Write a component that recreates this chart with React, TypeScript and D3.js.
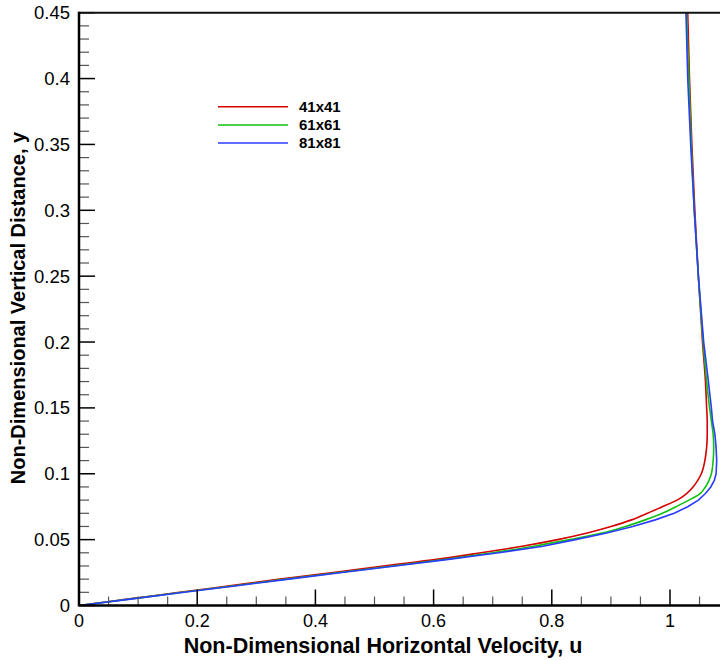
import React from "react";
import * as d3 from "d3";

const yLevels = [0, 0.005, 0.01, 0.015, 0.02, 0.025, 0.03, 0.035, 0.04, 0.045, 0.05, 0.055, 0.06, 0.065, 0.07, 0.075, 0.08, 0.085, 0.09, 0.095, 0.1, 0.11, 0.12, 0.13, 0.14, 0.15, 0.17, 0.2, 0.25, 0.3, 0.35, 0.4, 0.45];

const u41 = [0, 0.085, 0.17, 0.255, 0.34, 0.43, 0.515, 0.605, 0.68, 0.75, 0.81, 0.86, 0.9, 0.935, 0.962, 0.987, 1.012, 1.028, 1.039, 1.047, 1.053, 1.059, 1.062, 1.063, 1.063, 1.062, 1.06, 1.055, 1.048, 1.042, 1.037, 1.033, 1.03];
const u61 = [0, 0.088, 0.175, 0.263, 0.35, 0.44, 0.53, 0.62, 0.7, 0.77, 0.83, 0.885, 0.925, 0.958, 0.987, 1.01, 1.032, 1.051, 1.06, 1.066, 1.07, 1.073, 1.074, 1.073, 1.07, 1.067, 1.062, 1.056, 1.048, 1.041, 1.036, 1.032, 1.028];
const u81 = [0, 0.09, 0.178, 0.267, 0.355, 0.445, 0.535, 0.625, 0.71, 0.785, 0.84, 0.893, 0.937, 0.975, 1.007, 1.03, 1.048, 1.06, 1.069, 1.075, 1.078, 1.079, 1.078, 1.076, 1.072, 1.07, 1.065, 1.057, 1.048, 1.041, 1.035, 1.03, 1.027];

const seriesNames = ["41x41", "61x61", "81x81"];
const seriesColors = ["#d40000", "#10c010", "#2a3cff"];
const seriesValues = [u41, u61, u81];

const xTickLabels = [0, 0.2, 0.4, 0.6, 0.8, 1];
const yTickLabels = [0, 0.05, 0.1, 0.15, 0.2, 0.25, 0.3, 0.35, 0.4, 0.45];

const FONT = "'Liberation Sans', Arial, Helvetica, sans-serif";

export default function App() {
  const left = 79;
  const top = 12.7;
  const bottom = 605.5;
  const x = d3.scaleLinear().domain([0, 1.1]).range([left, left + 1.1 * 591]);
  const y = d3.scaleLinear().domain([0, 0.45]).range([bottom, top]);

  const xMinor = d3.range(0, 1.1001, 0.05).map((v) => +v.toFixed(2));
  const yMinor = d3.range(0, 0.4501, 0.01).map((v) => +v.toFixed(2));
  const isMajorX = (v: number) => Math.abs(v * 5 - Math.round(v * 5)) < 1e-6;
  const isMajorY = (v: number) => Math.abs(v * 20 - Math.round(v * 20)) < 1e-6;

  const fmt = (v: number) => (v === 0 ? "0" : String(+v.toFixed(2)));

  const lines = seriesValues.map((vals, i) => {
    const pts: [number, number][] = vals.map((u, k) => [u, yLevels[k]]);
    const gen = d3
      .line<[number, number]>()
      .x((d) => x(d[0]))
      .y((d) => y(d[1]))
      .curve(i === 2 ? d3.curveLinear : d3.curveMonotoneY);
    return gen(pts) || "";
  });

  const legendY = [106.7, 125, 143];

  return (
    <div style={{ position: "fixed", left: 0, top: 0 }}>
      <svg width={720} height={660} style={{ display: "block", background: "#fff" }}>
        <defs>
          <clipPath id="plot">
            <rect x={left} y={top} width={700} height={bottom - top} />
          </clipPath>
        </defs>
        <g clipPath="url(#plot)">
          {lines.map((d, i) => (
            <path key={i} d={d} fill="none" stroke={seriesColors[i]} strokeWidth={1.6} />
          ))}
        </g>
        {xMinor.map((v, i) => (
          <line
            key={"xt" + i}
            x1={x(v)}
            x2={x(v)}
            y1={bottom}
            y2={bottom - (isMajorX(v) ? 16 : 9)}
            stroke={isMajorX(v) ? "#000" : "#555"}
            strokeWidth={isMajorX(v) ? 1.5 : 1.2}
          />
        ))}
        {yMinor.map((v, i) => (
          <line
            key={"yt" + i}
            x1={left}
            x2={left + (isMajorY(v) ? 16 : 10)}
            y1={y(v)}
            y2={y(v)}
            stroke={isMajorY(v) ? "#000" : "#555"}
            strokeWidth={isMajorY(v) ? 1.5 : 1.2}
          />
        ))}
        <line x1={left} x2={720} y1={top} y2={top} stroke="#111" strokeWidth={2} />
        <line x1={left} x2={720} y1={bottom} y2={bottom} stroke="#000" strokeWidth={2.5} />
        <line x1={left} x2={left} y1={top - 1} y2={bottom + 1} stroke="#000" strokeWidth={2.5} />
        {xTickLabels.map((v, i) => (
          <text key={"xl" + i} x={x(v)} y={bottom + 21} textAnchor="middle" fontFamily={FONT} fontSize={18} fill="#000">
            {fmt(v)}
          </text>
        ))}
        {yTickLabels.map((v, i) => (
          <text key={"yl" + i} x={70} y={y(v) + 6.5} textAnchor="end" fontFamily={FONT} fontSize={18.5} fill="#000">
            {fmt(v)}
          </text>
        ))}
        <text x={383} y={653} textAnchor="middle" fontFamily={FONT} fontSize={21.5} fontWeight="bold" fill="#000">
          Non-Dimensional Horizontal Velocity, u
        </text>
        <text
          transform={`translate(25, 308) rotate(-90)`}
          textAnchor="middle"
          fontFamily={FONT}
          fontSize={20}
          fontWeight="bold"
          fill="#000"
        >
          Non-Dimensional Vertical Distance, y
        </text>
        {seriesNames.map((n, i) => (
          <g key={"lg" + i}>
            <line x1={218} x2={288} y1={legendY[i]} y2={legendY[i]} stroke={seriesColors[i]} strokeWidth={1.6} />
            <text x={299} y={legendY[i] + 5} fontFamily={FONT} fontSize={15} fontWeight="bold" fill="#000">
              {n}
            </text>
          </g>
        ))}
      </svg>
    </div>
  );
}
